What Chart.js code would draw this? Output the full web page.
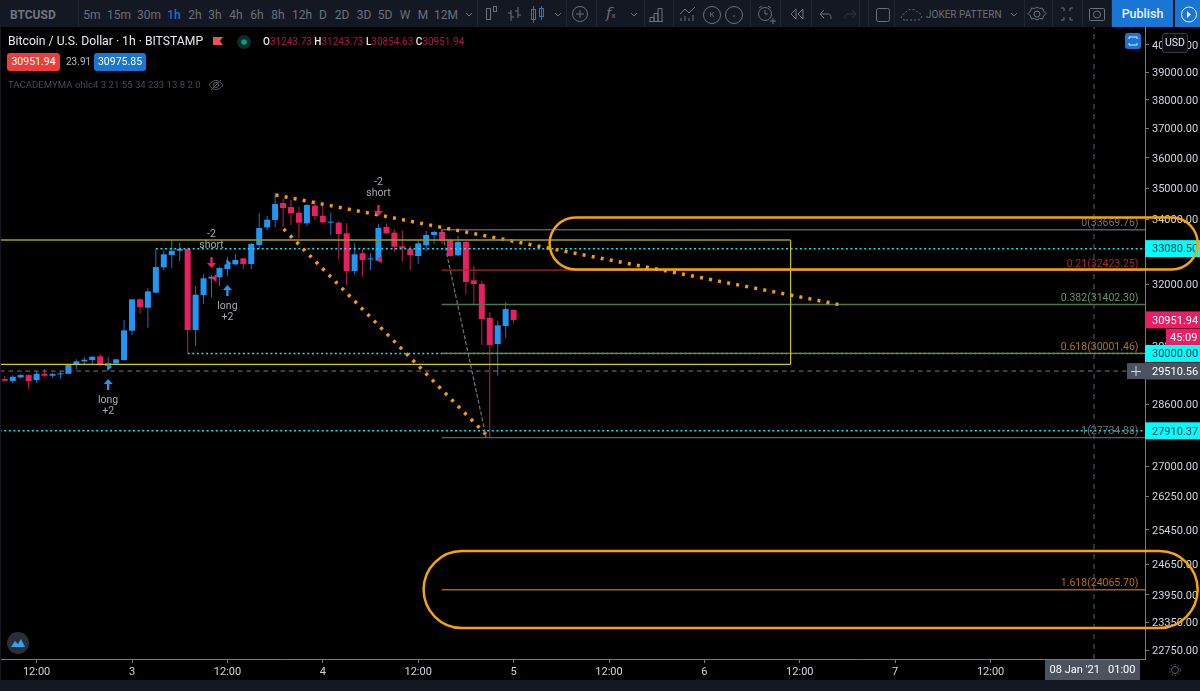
<!DOCTYPE html>
<html><head><meta charset="utf-8">
<script src="https://cdn.jsdelivr.net/npm/chart.js@4/dist/chart.umd.min.js"></script>
<style>
html,body{margin:0;padding:0;background:#000;overflow:hidden;width:1200px;height:691px;font-family:Roboto,sans-serif}
#c{position:absolute;left:0;top:0;display:block}
.t{position:absolute;white-space:nowrap;line-height:1}
.tb{color:#6b717c;font-size:12px;top:9px;transform:translateX(-50%)}
</style></head><body>
<canvas id="c" width="1200" height="691"></canvas>
<div id="ui"></div>
<script>
// ---------- data ----------
const hours=[8,9,10,11,12,13,14,15,16,17,18,19,20,21,22,23,24,25,26,27,28,29,30,31,32,33,34,35,36,37,38,39,40,41,42,43,44,45,46,47,48,49,50,51,52,53,54,55,56,57,58,59,60,61,62,63,64,65,66,67,68,69,70,71,72];
const opens=[29291,29237,29338,29401,29264,29436,29382,29420,29436,29676,29779,29815,29918,29657,29722,29815,30642,31552,31307,31748,32508,32884,33016,33069,30662,31679,32168,32206,32457,32600,32782,32609,33192,33740,33975,34518,34390,34208,33871,34433,34111,33892,33892,33556,32397,32937,32752,32710,33755,33576,33152,33069,32853,33183,33503,33597,33347,32874,33285,32117,32006,31015,30264,30776,31243.73];
const highs=[29382,29393,29428,29420,29491,29566,29455,29510,29695,29835,29899,29927,29983,29907,29851,30949,31561,31581,31877,33069,33016,33347,33263,33122,31946,32306,32276,32526,32832,32915,32792,33263,34187,34102,34853,34657,34615,34399,34476,34615,34422,34208,33943,33871,33244,33060,32937,33849,33871,33692,33638,33161,33347,33638,33628,33660,33400,33481,33306,32548,32105,31172,30929,31473,31243.73];
const lows=[29218,29174,29299,29027,29182,29354,29327,29299,29428,29557,29704,29704,29648,29557,29695,29795,30519,31131,30728,31729,32427,32487,32691,30019,30208,31414,31611,31946,32246,32569,32457,32457,33069,33660,33745,33766,33817,33400,33795,33975,33839,33503,32752,31976,32297,32225,32427,32680,33534,32986,32691,32427,32609,33008,33223,33223,32832,32853,31709,31385,30236,27734.88,29382,30443,30854.63];
const closes=[29245,29354,29401,29237,29436,29382,29428,29447,29676,29779,29823,29907,29676,29722,29835,30653,31552,31327,31788,32517,32906,33016,33069,30662,31688,32177,32225,32487,32600,32731,32609,33223,33723,33984,34486,34358,34187,33892,34454,34102,33902,33923,33534,32397,32906,32731,32782,33723,33556,33139,33090,32884,33244,33503,33597,33316,32853,33285,32066,32006,30978,30236,30796,31268,30951.94];

const xTickHours=[12,24,36,48,60,72,84,96,108,120,132];
const xTickLabels=['12:00','3','12:00','4','12:00','5','12:00','6','12:00','7','12:00'];
const yTicks=[40000,39000,38000,37000,36000,35000,34000,33000,32000,31000,30200,29400,28600,27800,27000,26250,25450,24650,23950,23350,22750];

const fibRatios=['0','0.21','0.382','0.618','1','1.618'];
const fibPrices=[33669.76,32423.25,31402.30,30001.46,27734.88,24065.70];
const fibColors=['#585b64','#a8262e','#4b764e','#b0760f','#585b64','#a85e0c'];
const fibTextColors=['#6f727c','#a8262e','#5f9a62','#b0760f','#6f727c','#b8700f'];
const fibStart=62.94;

const cyanPrices=[33080.50,30000.00,27910.37];
const cyanStarts=[27,31,7.35];
const crossPrice=29510.56, crossHour=145;
const lastPrice=30951.94;

const boxHours=[7.35,106.84], boxPrices=[33347,29695];
const dotA={x:[42.06,113.26],y:[34777,31385]};
const dotB={x:[43.07,68.6],y:[33692,27800]};
const trend={x:[62.94,68.55],y:[33669.76,27734.88]};
const pillHours=[[76.53,158.04],[60.68,158.04]];
const pillPrices=[[34055,32442],[24950,23220]];

const longHours=[21,36], longTips=[29291,31976];
const shortHours=[34,55], shortTips=[32487,34102];
const triHours=[21,36,34.5,55.3], triPrices=[29620,32630,32180,32750], triDirs=[1,1,-1,-1], triColors=['#2196f3','#2196f3','#e91e63','#e91e63'];

// ---------- datasets ----------
const BLUE='#2196f3',PINK='#e91e63';
const up=closes.map((c,i)=>c>=opens[i]);
const line=(xs,ys,color,w,dash,extra)=>Object.assign({type:'line',data:xs.map((x,i)=>({x,y:ys[i]})),borderColor:color,borderWidth:w,borderDash:dash||[],pointRadius:0,fill:false,tension:0,order:1,clip:true},extra||{});
const xMax=151.42,xMin=7.396,yMax=40677,yMin=22560;

const datasets=[
 {type:'bar',grouped:false,order:11,barThickness:1,inflateAmount:0,data:hours.map((h,i)=>({x:h,y:[lows[i],highs[i]]})),backgroundColor:up.map(u=>u?'#1a74bd':'#bb2058')},
 {type:'bar',grouped:false,order:10,barThickness:6,inflateAmount:0,minBarLength:1,data:hours.map((h,i)=>({x:h,y:[opens[i],closes[i]]})),backgroundColor:up.map(u=>u?BLUE:PINK)},
 line([boxHours[0],boxHours[1]],[boxPrices[0],boxPrices[0]],'rgba(150,150,15,.8)',2),
 line([boxHours[0],boxHours[1]],[boxPrices[1],boxPrices[1]],'#d0d000',1.2),
 line([boxHours[1],boxHours[1]],boxPrices,'#c4c400',1.2),
 line(trend.x,trend.y,'#6f727c',1.2,[4,2]),
 line(dotA.x,dotA.y,'#f59a14',3.5,[3,6.2]),
 line(dotB.x,dotB.y,'#f59a14',3.5,[3,6.2]),
 line([xMin,xMax],[crossPrice,crossPrice],'#787b86',1,[4.5,4]),
 line([crossHour,crossHour],[yMin,yMax],'#596070',1,[5,5])
];
fibPrices.forEach((p,i)=>datasets.push(line([fibStart,xMax],[p,p],fibColors[i],1.4)));
cyanPrices.forEach((p,i)=>datasets.push(line([cyanStarts[i],xMax],[p,p],'#10e6e6',1.5,[2,2.6])));

// ---------- overlay plugin ----------
const overlay={id:'overlay',afterDraw(ch){
 const c=ch.ctx,X=ch.scales.x,Y=ch.scales.y,px=h=>X.getPixelForValue(h),py=p=>Y.getPixelForValue(p);
 const a=ch.chartArea;
 c.save();
 c.beginPath();c.rect(a.left,a.top,a.right-a.left,a.bottom-a.top);c.clip();
 // fib labels
 c.font='10.5px Roboto';c.textAlign='right';c.textBaseline='middle';
 fibPrices.forEach((p,i)=>{c.fillStyle=fibTextColors[i];c.fillText(fibRatios[i]+'('+p.toFixed(2)+')',1138.5,py(p)-6);});
 // signals
 const arrow=(x,tip,d,col)=>{c.fillStyle=col;c.strokeStyle=col;c.lineWidth=2.4;c.beginPath();c.moveTo(x,tip+d*3);c.lineTo(x,tip+d*11);c.stroke();c.beginPath();c.moveTo(x,tip);c.lineTo(x-4.5,tip+d*5);c.lineTo(x+4.5,tip+d*5);c.closePath();c.fill();};
 c.textAlign='center';c.font='10.5px Roboto';
 longHours.forEach((h,i)=>{const x=px(h),t=py(longTips[i]);arrow(x,t,1,BLUE);c.fillStyle='#a6a9b0';c.fillText('long',x,t+21);c.fillText('+2',x,t+32);});
 shortHours.forEach((h,i)=>{const x=px(h),t=py(shortTips[i]);arrow(x,t,-1,PINK);c.fillStyle='#a6a9b0';c.fillText('-2',x,t-34);c.fillText('short',x,t-23);});
 triHours.forEach((h,i)=>{const x=px(h),y=py(triPrices[i]),d=triDirs[i];c.fillStyle=triColors[i];c.beginPath();c.moveTo(x+d*4,y);c.lineTo(x-d*1,y-4);c.lineTo(x-d*1,y+4);c.closePath();c.fill();});
 c.restore();
 // price tags
 const tag=(p,bg,fg)=>{const y=py(p);c.fillStyle=bg;c.fillRect(1145,y-8.5,55,17);c.fillStyle=fg;c.font='11px Roboto';c.textAlign='left';c.textBaseline='middle';c.fillText(p.toFixed(2),1152,y+1);};
 cyanPrices.forEach(p=>tag(p,'#00ffff','#10303a'));
 tag(crossPrice,'#4c525e','#fff');
 tag(lastPrice,'#e91e63','#fff');
 const ly=py(lastPrice);c.fillStyle='#e91e63';c.fillRect(1166,ly+9,34,16);c.fillStyle='#fff';c.fillText('45:09',1170,ly+18);
 // time tag
 c.fillStyle='#4c525e';c.fillRect(1045,660,95,20);c.fillStyle='#fff';c.font='11px Roboto';c.textAlign='center';c.fillText("08 Jan '21   01:00",1092.5,670);
 // cross button
 const cy=py(crossPrice);c.fillStyle='#4c525e';c.fillRect(1127,cy-8,18,16);c.strokeStyle='#d8dbe0';c.lineWidth=1;c.beginPath();c.moveTo(1131,cy+.5);c.lineTo(1141,cy+.5);c.moveTo(1136,cy-5);c.lineTo(1136,cy+5);c.stroke();
 // highlight pills
 c.strokeStyle='#f5a50a';c.lineWidth=2.5;
 pillHours.forEach((hh,i)=>{const l=px(hh[0]),r=px(hh[1]),t=py(pillPrices[i][0]),b=py(pillPrices[i][1]);c.beginPath();c.roundRect(l,t,r-l,b-t,(b-t)/2);c.stroke();});
}};

new Chart(document.getElementById('c'),{
 data:{datasets},
 options:{responsive:false,animation:false,devicePixelRatio:1,
  layout:{padding:{top:27,left:0,right:0,bottom:0}},
  plugins:{legend:{display:false},tooltip:{enabled:false}},
  scales:{
   x:{type:'linear',min:xMin,max:xMax,offset:false,
    afterBuildTicks(s){s.ticks=xTickHours.map(v=>({value:v}));},
    afterFit(s){s.height=32;},
    grid:{drawOnChartArea:false,color:'#787b86',tickLength:4,offset:false},
    border:{display:true,color:'#787b86'},
    ticks:{autoSkip:false,maxRotation:0,minRotation:0,padding:3,color:'#d1d4dc',font:{family:'Roboto',size:11},callback:v=>xTickLabels[xTickHours.indexOf(v)]||''}},
   y:{type:'logarithmic',position:'right',min:yMin,max:yMax,
    afterBuildTicks(s){s.ticks=yTicks.map(v=>({value:v}));},
    afterFit(s){s.width=55;},
    grid:{drawOnChartArea:false,color:'#787b86',tickLength:4},
    border:{display:true,color:'#787b86'},
    ticks:{autoSkip:false,padding:3,labelOffset:1,color:'#d1d4dc',font:{family:'Roboto',size:11},callback:v=>Number(v).toFixed(2)}}
  }},
 plugins:[overlay]
});

// ---------- interface around the chart ----------
const ui=document.getElementById('ui');
const intervals=['5m','15m','30m','1h','2h','3h','4h','6h','8h','12h','D','2D','3D','5D','W','M','12M'];
const intervalX=[92,119,149,174,195,215,236,257,278,302,323,342,364,385,405,423,446];
let h='';
h+='<div style="position:absolute;left:0;top:0;width:1200px;height:27px;background:#141823"></div>';
h+='<div style="position:absolute;left:0;top:680px;width:1200px;height:11px;background:#141823"></div>';
h+='<div style="position:absolute;left:0;top:27px;width:1px;height:653px;background:#141823"></div>';
h+='<div class="t" style="left:10px;top:9px;font-size:12px;font-weight:700;color:#6f7580">BTCUSD</div>';
intervals.forEach((t,i)=>{h+='<div class="t tb" style="left:'+intervalX[i]+'px;'+(t=='1h'?'color:#1b6fd0;font-weight:500':'')+'">'+t+'</div>';});
h+='<div class="t" style="left:926px;top:9.500px;font-size:10px;color:#6b717c">JOKER PATTERN</div>';
h+='<div class="t" style="left:606px;top:6px;font-size:15px;font-style:italic;color:#6b717c;font-family:\'DejaVu Serif\',serif">f<span style="font-size:8px;font-style:normal;font-family:Roboto">x</span></div>';
h+='<div style="position:absolute;left:1112px;top:0;width:61px;height:27px;background:#1976d2"></div>';
h+='<div class="t" style="left:1142.500px;top:8px;font-size:12.500px;font-weight:500;color:#eaf2fb;transform:translateX(-50%)">Publish</div>';
h+='<div style="position:absolute;left:1175px;top:0;width:25px;height:27px;background:#1976d2"></div>';
// toolbar icons
const S='stroke="#6b717c" fill="none" stroke-width="1"';
let v='<svg style="position:absolute;left:0;top:0" width="1200" height="28">';
[78,477,566,596,644,673,750,780,811,859,868,894,1024,1052,1082,1111].forEach(x=>{v+='<line x1="'+(x+.5)+'" y1="0" x2="'+(x+.5)+'" y2="27" stroke="#222632"/>';});
v+='<rect x="486.500" y="8.500" width="4" height="11" '+S+'/><rect x="493.500" y="6.500" width="3" height="5" '+S+'/>';
v+='<path d="M511 10v11M511 13h-3M511 17h3M518 7v11M518 11h-3M518 15h3" '+S+'/>';
v+='<path d="M533.500 6v17M541.500 6v14" stroke="#1b78d2"/><rect x="531.500" y="9.500" width="4" height="10" stroke="#1b78d2" fill="none"/><rect x="539.500" y="8.500" width="4" height="8" stroke="#1b78d2" fill="none"/>';
[469,558,634,1014].forEach(x=>{v+='<path d="M'+(x-3)+' 13l3 3l3-3" '+S+'/>';});
v+='<circle cx="580" cy="14" r="7.500" '+S+'/><path d="M576 14h8M580 10v8" '+S+'/>';
v+='<path d="M650 21.500v-4h4v4M654 21.500v-8h4v8M658 21.500v-13h4v13M649 21.500h14" '+S+'/>';
v+='<path d="M680 14l5-5l4 4l6-6M681 21v-3M685 21v-5M689 21v-3M693 21v-6" '+S+'/>';
v+='<circle cx="712" cy="15" r="8.500" '+S+'/><circle cx="734" cy="15" r="8.500" '+S+'/><path d="M733 16h2" '+S+'/>';
v+='<circle cx="765" cy="14" r="6.500" '+S+'/><path d="M765 10v4h3M759 8l3-2M771 8l-3-2M770 21h6M773 18v6" '+S+'/>';
v+='<path d="M796 9l-5 5l5 5zM803 9l-5 5l5 5z" '+S+'/>';
v+='<path d="M824 10l-4 4l4 4M820 14h8c3 0 3 3 3 5" '+S+'/><path d="M852 10l4 4l-4 4M856 14h-8c-3 0-3 3-3 5" stroke="#333742" fill="none"/>';
v+='<rect x="876.500" y="8.500" width="13" height="13" rx="2" '+S+'/>';
v+='<path d="M905 20c-5 0-5-6 0-6c1-6 11-6 13-1c5 0 5 7 0 7z" '+S+' stroke-dasharray="2 2"/>';
v+='<path d="M1037 7l2.500 1.500l3-.5l1 3l2.500 2.500l-2.500 2.500l-1 3l-3-.5l-2.500 1.500l-2.500-1.500l-3 .5l-1-3l-2.500-2.500l2.500-2.500l1-3l3 .5z" '+S+'/><circle cx="1037" cy="14" r="3" '+S+'/>';
v+='<path d="M1061 8h3v3M1073 8h-3v3M1061 20h3v-3M1073 20h-3v-3" '+S+'/>';
v+='<rect x="1089.500" y="8.500" width="15" height="12" rx="1" '+S+'/><circle cx="1097" cy="14.500" r="3.500" '+S+'/>';
v+='<circle cx="1189" cy="14.500" r="7.500" stroke="#eaf2fb" fill="none"/><path d="M1187 11l4 3.500l-4 3.500z" fill="#eaf2fb"/>';
v+='</svg>';
h+=v;
h+='<div class="t" style="left:709.500px;top:11px;font-size:8px;color:#6b717c">K</div>';
h+='<div class="t" style="left:8px;top:35px;font-size:12.200px;color:#e8eaee">Bitcoin / U.S. Dollar · 1h · BITSTAMP</div>';
h+='<svg style="position:absolute;left:212px;top:35px" width="44" height="16"><path d="M1 2h10l-3 4l3 4H1z" fill="#ef5350"/><circle cx="32" cy="7" r="7" fill="#0c2c2c"/><circle cx="32" cy="7" r="2.800" fill="#089981"/></svg>';
const ohlc=[['O','31243.73'],['H','31243.73'],['L','30854.63'],['C','30951.94']];
h+='<div class="t" style="left:263px;top:37px;font-size:10px">'+ohlc.map(o=>'<span style="color:#e8eaee;font-weight:500">'+o[0]+'</span><span style="color:#b3124e">'+o[1]+'</span>').join('&nbsp;')+'</div>';
h+='<div class="t" style="left:7px;top:53px;width:53px;height:18px;line-height:18px;text-align:center;background:#ef3b3a;border-radius:3px;color:#fff;font-size:10.500px">30951.94</div>';
h+='<div class="t" style="left:66px;top:57px;font-size:10px;color:#b8bbc2">23.91</div>';
h+='<div class="t" style="left:94px;top:53px;width:52px;height:18px;line-height:18px;text-align:center;background:#1976d2;border-radius:3px;color:#fff;font-size:10.500px">30975.85</div>';
h+='<div class="t" style="left:8px;top:80px;font-size:9.600px;color:#464a54">TACADEMYMA ohlc4 3 21 55 34 233 13 8 2 0</div>';
h+='<svg style="position:absolute;left:208px;top:78px" width="16" height="14"><path d="M1 7c4-6 10-6 14 0c-4 6-10 6-14 0zM3 12L13 2" stroke="#565a64" fill="none"/><circle cx="8" cy="7" r="2.500" stroke="#565a64" fill="none"/></svg>';
h+='<div style="position:absolute;left:1125px;top:33px;width:16px;height:16px;background:#1976d2;border-radius:3px"></div>';
h+='<svg style="position:absolute;left:1125px;top:33px" width="16" height="16"><path d="M4 6V4h8v2M4 10v2h8v-2" stroke="#dbe8f7" fill="none"/></svg>';
h+='<div class="t" style="left:1162px;top:33px;width:24px;height:18px;line-height:18px;text-align:center;background:#0a0c11;border:1px solid #363a45;border-radius:3px;color:#e4e6ea;font-size:10.500px">USD</div>';
h+='<svg style="position:absolute;left:7px;top:632px" width="22" height="22"><circle cx="11" cy="11" r="11" fill="#2a2e39"/><path d="M4 15l4-6l3 3l3-5l4 8z" fill="#2ea3f2"/></svg>';
h+='<svg style="position:absolute;left:1168px;top:663px" width="14" height="14"><circle cx="7" cy="7" r="3.500" stroke="#5d626d" fill="none"/><circle cx="7" cy="7" r="5.500" stroke="#5d626d" stroke-dasharray="1.500 2" fill="none"/></svg>';
ui.innerHTML=h;
</script>
</body></html>
